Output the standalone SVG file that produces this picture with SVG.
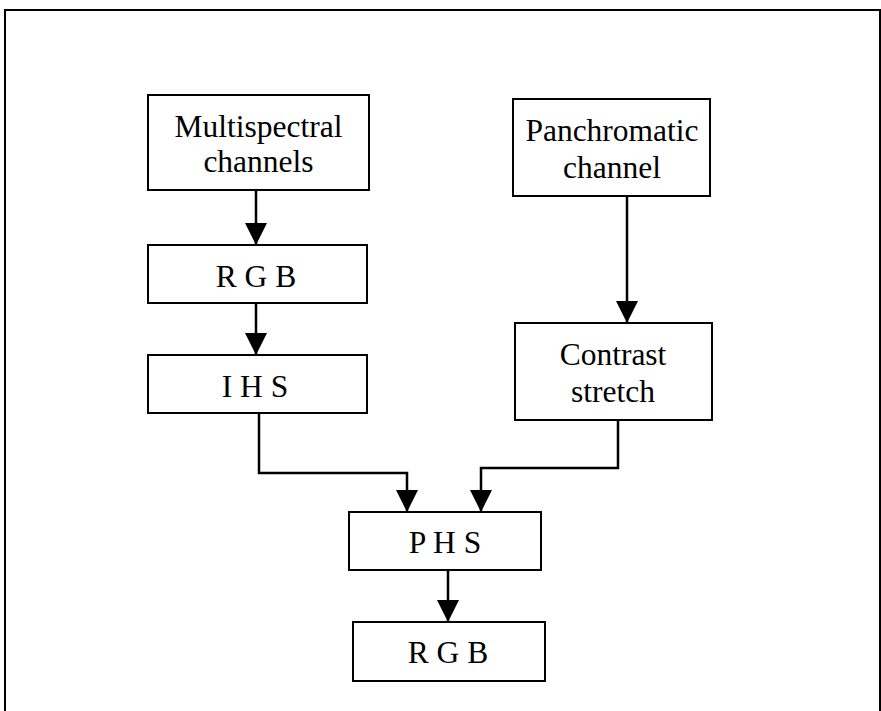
<svg xmlns="http://www.w3.org/2000/svg" width="881" height="711" viewBox="0 0 881 711">
  <defs>
    <marker id="arrow" markerUnits="userSpaceOnUse" markerWidth="24" markerHeight="22" refX="22" refY="11" orient="auto">
      <path d="M0,0 L22,11 L0,22 Z" fill="#000"/>
    </marker>
    <style>
      .box { fill: #fff; stroke: #000; stroke-width: 2; }
      .lbl { font-family: "Liberation Serif", "Times New Roman", serif; font-size: 31.5px; fill: #000; text-anchor: middle; }
      .wire { fill: none; stroke: #000; stroke-width: 2.5; marker-end: url(#arrow); }
    </style>
  </defs>

  <rect width="881" height="711" fill="#fff"/>
  <!-- frame -->
  <path d="M5,715 L5,10 L880,10 L880,715" fill="none" stroke="#000" stroke-width="2"/>

  <g id="connectors">
    <path class="wire" d="M256,190 L256,245"/>
    <path class="wire" d="M256,303 L256,355"/>
    <path class="wire" d="M627,196 L627,323"/>
    <path class="wire" d="M259,413 L259,473 L407,473 L407,512"/>
    <path class="wire" d="M618,420 L618,468 L481,468 L481,512"/>
    <path class="wire" d="M448,570 L448,622"/>
  </g>

  <g id="multispectral">
    <rect class="box" x="148" y="95" width="221" height="95"/>
    <text class="lbl" x="258.5" y="137">Multispectral</text>
    <text class="lbl" x="258.5" y="172">channels</text>
  </g>

  <g id="panchromatic">
    <rect class="box" x="513" y="99" width="197" height="97"/>
    <text class="lbl" x="612" y="141">Panchromatic</text>
    <text class="lbl" x="612" y="178">channel</text>
  </g>

  <g id="rgb-in">
    <rect class="box" x="148" y="245" width="219" height="58"/>
    <text class="lbl" x="256" y="287">R G B</text>
  </g>

  <g id="ihs">
    <rect class="box" x="148" y="355" width="219" height="58"/>
    <text class="lbl" x="255" y="397">I H S</text>
  </g>

  <g id="contrast">
    <rect class="box" x="515" y="323" width="197" height="97"/>
    <text class="lbl" x="613" y="365">Contrast</text>
    <text class="lbl" x="613" y="402">stretch</text>
  </g>

  <g id="phs">
    <rect class="box" x="349" y="512" width="192" height="58"/>
    <text class="lbl" x="445" y="553">P H S</text>
  </g>

  <g id="rgb-out">
    <rect class="box" x="353" y="622" width="192" height="59"/>
    <text class="lbl" x="448" y="663">R G B</text>
  </g>
</svg>
